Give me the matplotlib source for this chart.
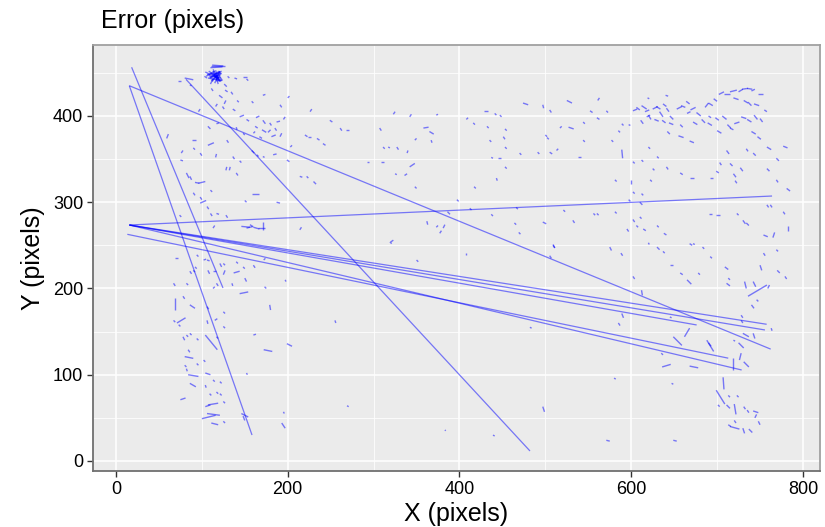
import matplotlib
matplotlib.use("Agg")
import matplotlib.pyplot as plt
from matplotlib.collections import LineCollection
from matplotlib.ticker import MultipleLocator
import numpy as np

plt.rcParams["font.family"] = ["Liberation Sans", "DejaVu Sans"]

# long error segments: start x, start y, end x, end y (pixels)
long_x    = [18.2, 15.5, 81.5, 15.5, 15.5, 15.5, 15.5, 15.5, 13.2, 15.5]
long_y    = [456.5, 435.1, 442.5, 435.1, 273.6, 273.6, 273.6, 273.6, 262.8, 273.6]
long_xend = [124.6, 158.4, 482.1, 762.4, 764.0, 757.7, 755.7, 676.2, 713.0, 728.6]
long_yend = [200.6, 30.1, 11.6, 129.7, 307.2, 158.5, 151.9, 157.7, 119.2, 105.5]

# short error segments: (x, y, dx, dy)
blob = [
    (111, 458, 16, 0), (112, 459, 13, -1), (110, 456, 14, 1), (108, 452, 12, -8),
    (109, 445, 14, 7), (112, 440, 9, 12), (115, 438, 6, 14), (118, 440, -5, 12),
    (120, 452, -10, -8), (106, 448, 16, 2), (107, 444, 16, -3), (110, 450, 12, -10),
    (113, 454, 8, -14), (116, 453, 4, -13), (121, 448, -12, -4), (119, 437, -3, 11),
    (105, 446, 10, 6), (122, 444, -14, 3), (111, 441, 11, 9), (114, 447, 9, -6),
    (117, 442, 6, 8), (110, 437, 3, 6), (124, 441, -4, 6), (104, 451, 6, -3),
    (103, 446, 3, -2), (126, 437, 3, -3), (130, 446, 2, -2), (138, 444, 3, -1),
    (148, 445, 4, 0), (152, 443, 2, -2), (127, 430, 3, -2), (134, 428, 2, -3),
    (120, 424, 4, -3), (128, 418, -2, -4), (124, 411, 2, -3), (118, 414, -2, -3),
    (136, 408, 3, -2), (111, 432, 2, -3), (141, 418, 2, -2),
]

top_left = [
    (72, 440, 4, 0), (80, 444, 10, -2), (86, 436, 2, -1), (96, 405, 2, 3),
    (107, 388, 3, -3), (117, 391, 3, 1), (158, 417, 2, -2), (171, 424, 3, 1),
    (200, 421, 2, 2), (191, 413, 2, -3), (144, 399, 5, 2), (152, 396, 3, -2),
    (163, 398, 4, 2), (171, 395, 3, -4), (179, 392, 2, -3), (187, 393, 4, 1),
    (195, 396, 2, 3), (162, 388, 3, -2), (170, 384, 5, -3), (177, 381, 3, 3),
    (185, 386, 2, -3), (193, 380, -2, -4), (160, 380, 2, 2), (167, 376, 3, -2),
    (181, 376, 5, 2), (148, 380, 2, -2), (140, 387, 1, -3),
    (88, 372, 5, 0), (78, 360, -2, -3), (90, 363, 2, -2), (107, 366, 7, 3),
    (98, 357, 2, -3), (117, 356, -1, -4), (129, 372, 2, -3), (136, 353, 2, -3),
    (133, 341, -1, -4), (144, 348, 2, -2), (158, 360, 3, -3), (164, 355, 2, -2),
    (171, 353, 2, -1), (183, 355, 4, 1), (203, 364, 2, 2), (199, 349, 3, -2),
    (75, 349, 3, -1), (82, 334, 3, -6), (86, 330, 2, -4), (92, 323, 5, -1),
    (96, 322, 8, 2), (90, 311, 2, -3), (98, 306, 2, -3), (110, 314, 2, -2),
    (129, 341, -1, -4), (140, 334, 2, -3), (158, 310, 8, 0), (150, 302, 2, -2),
    (187, 300, 4, -1), (98, 299, 7, 3), (106, 295, 2, -3), (110, 287, 2, -3),
    (117, 287, 3, -1), (128, 285, 2, -3), (59, 374, 2, 5), (113, 270, 2, 3),
    (214, 268, 2, 3), (74, 285, 2, -2),
    (146, 272, 10, -1), (152, 270, 8, 2), (160, 271, 7, -2), (165, 270, 8, 0),
    (171, 268, 0, 9), (156, 274, 3, -2),
]

middle = [
    (214, 330, 3, -1), (222, 330, 2, -2), (230, 324, 3, -3), (226, 405, 2, 3),
    (220, 378, 3, -2), (224, 376, 3, 0), (234, 374, 3, -2), (241, 368, 3, -2),
    (249, 395, 3, -2), (261, 386, 2, -3), (268, 384, 3, 0), (307, 386, 2, -3),
    (311, 364, 2, -2), (317, 364, 2, -1), (323, 402, 2, 3), (327, 364, 2, -3),
    (342, 399, 2, 3), (340, 360, -1, -3), (348, 372, 2, 2), (358, 386, 6, 1),
    (365, 382, 5, -3), (367, 372, 1, -3), (373, 401, 2, 1), (342, 341, 6, 4),
    (325, 333, 2, -1), (336, 331, 3, 2), (348, 318, 2, -2), (292, 347, 3, 0),
    (309, 347, 3, 0), (362, 278, 1, -4), (373, 271, 2, 2), (383, 274, -2, -4),
    (320, 254, 3, 2), (377, 264, 2, 3), (386, 289, 3, -3),
    (428, 406, 5, 0), (441, 403, 2, -2), (447, 401, 2, -2), (408, 396, 2, 2),
    (416, 392, 2, -2), (432, 388, 2, -2), (453, 385, 2, -2), (474, 415, 6, -2),
    (497, 413, 1, -4), (505, 407, 2, -3), (525, 418, 6, -3), (561, 418, 2, 3),
    (552, 406, 3, -2), (571, 406, 2, -2), (560, 398, 3, -2), (544, 393, 2, -2),
    (517, 386, 2, 2), (527, 387, 6, -2), (500, 378, 2, -2), (502, 375, 2, -2),
    (451, 376, 2, -3), (435, 372, 2, -2), (453, 364, 2, -2), (470, 357, 2, -2),
    (437, 352, 2, -1), (445, 351, 3, 0), (491, 358, 2, -2), (505, 358, 3, -2),
    (513, 360, 2, 2), (538, 352, 3, 0), (544, 372, 2, -2), (577, 372, 2, -2),
    (585, 383, 2, -2), (589, 391, 2, -2), (597, 390, 2, -1), (589, 361, 1, -10),
    (602, 347, 2, -2), (620, 364, 2, -2), (630, 353, 2, -2), (612, 349, 2, -2),
    (625, 339, 2, -2), (622, 326, 2, -2), (600, 326, 0, -5), (581, 326, 2, -2),
    (602, 312, 2, -2), (612, 310, 2, -2), (417, 318, 2, -2), (453, 341, 2, -2),
    (443, 328, 1, -3), (397, 303, 2, -2),
]

top_right = [
    (602, 406, 5, 2), (606, 410, 4, -3), (612, 412, 6, -4), (616, 405, 5, 2),
    (620, 401, 3, -5), (625, 408, 6, 3), (629, 411, 5, -3), (633, 405, 4, -6),
    (637, 414, 4, -3), (641, 409, 3, -4), (645, 400, 4, -4), (611, 395, 3, -4),
    (618, 399, 4, 2), (627, 396, 5, -2), (636, 395, 4, -3), (644, 392, 5, -2),
    (653, 408, 6, 3), (658, 412, 5, -2), (664, 417, 4, -3), (669, 407, 6, 3),
    (676, 404, 5, -4), (686, 410, 4, 5), (690, 415, 5, -3), (696, 420, 4, -3),
    (702, 425, 6, 3), (708, 426, 7, 0), (715, 428, 8, 2), (719, 421, 6, -2),
    (725, 428, 5, 3), (729, 431, 7, 1), (735, 432, 6, -1), (740, 429, 4, 2),
    (748, 426, 5, 0), (731, 418, 5, -3), (736, 416, 4, -4), (743, 414, 6, -2),
    (682, 396, 4, -4), (689, 392, 5, -3), (698, 398, 4, -3), (706, 400, 5, -4),
    (712, 390, 4, -4), (720, 391, 6, 2), (728, 399, 6, -2), (735, 396, 5, -3),
    (743, 401, 4, -5), (750, 397, 3, -4), (755, 407, 3, -2), (740, 382, 5, -3),
    (747, 376, 4, -3), (715, 386, 4, -2), (700, 383, 5, -3), (642, 382, 3, -3),
    (655, 377, 6, -2), (668, 371, 5, -2), (672, 393, 5, -3), (657, 390, 3, -3),
    (619, 421, 2, -1), (640, 424, 3, -1), (665, 403, 4, 2), (690, 400, 3, -2),
]

right_col = [
    (641, 341, 2, -3), (657, 334, 3, -2), (668, 328, 5, 0), (692, 328, 3, 0),
    (699, 336, 3, -2), (703, 346, 2, -3), (711, 360, 3, -4), (715, 345, 3, -3),
    (719, 333, 3, -4), (721, 325, 2, -3), (727, 340, 3, -4), (734, 362, 2, -3),
    (742, 357, 3, -3), (758, 364, 5, -3), (777, 365, 5, -2), (769, 351, 3, -3),
    (758, 339, 3, -3), (769, 326, 2, -3), (781, 316, 4, -3), (758, 297, 2, -3),
    (762, 297, 2, -3), (777, 289, 2, -3), (783, 273, 0, -6), (767, 265, -2, -6),
    (754, 262, 5, -2), (723, 287, 2, -2), (730, 279, 3, -4), (734, 276, 3, -3),
    (699, 285, 4, 0), (691, 286, 3, 0), (668, 252, 3, -2), (638, 264, 3, -2),
    (630, 273, 2, -2), (614, 269, 3, -2), (610, 283, 2, -2), (606, 273, 2, -2),
    (602, 280, 2, -3), (595, 269, 2, -3), (560, 287, 2, -2), (581, 289, 2, -2),
    (556, 287, 2, -2), (532, 279, 2, -3), (509, 250, 2, -3), (469, 265, 2, -2),
    (464, 276, 2, -2), (437, 286, 2, -2), (412, 293, 2, -2), (497, 277, 4, -2),
    (521, 291, 2, -2), (597, 303, 2, -2), (610, 300, 3, -3), (466, 294, 2, -2),
    (408, 241, 0, -2), (509, 251, 2, -4), (505, 238, 2, -3), (575, 248, 2, -4),
    (588, 241, 2, -3), (602, 214, 2, -3), (612, 198, 1, -6), (589, 171, 2, -5),
    (585, 160, 2, -3), (482, 155, 2, -1), (620, 253, 1, -2), (630, 248, 3, -3),
    (637, 243, 2, -2), (645, 227, 4, 0), (657, 218, 3, -2), (665, 210, 5, -5),
    (678, 218, 2, -2), (692, 237, 2, -2), (683, 248, 2, -2), (672, 252, 2, -1),
    (709, 225, 4, -3), (713, 212, 2, -2), (711, 206, 4, -3), (732, 208, 2, -8),
    (742, 208, 3, -6), (750, 227, 2, -6), (754, 241, 2, -3), (769, 245, 2, -2),
    (770, 221, 3, -3), (779, 214, 2, -3), (761, 204, -2, -4), (736, 191, 22, 13),
    (746, 187, 2, -2), (740, 181, 3, -4), (728, 169, 2, -3), (728, 163, 2, -3),
    (730, 148, 7, -4), (742, 148, 2, -6), (763, 154, 1, -3), (668, 154, -6, -10),
    (649, 144, 10, -10), (645, 167, 2, -1), (635, 125, 2, -2), (636, 109, 10, 3),
    (668, 110, 10, -2), (688, 140, 8, -13), (690, 137, 3, -4), (719, 140, 2, -1),
    (725, 137, 6, -6), (728, 125, -2, -8), (719, 119, 0, -14), (731, 115, 6, -6),
    (707, 97, 1, -14), (699, 82, 10, -16), (713, 76, 2, -2), (701, 65, 2, -2),
    (711, 65, 4, -4), (720, 66, 2, -12), (723, 76, 2, -2), (731, 63, 2, -3),
    (735, 59, 2, -3), (742, 58, 6, -2), (746, 54, -2, -4), (748, 46, 2, -4),
    (720, 47, 2, -3), (715, 40, 11, -3), (730, 38, 2, -6), (737, 37, 4, -4),
    (713, 42, 3, -2), (647, 90, 2, -1), (580, 96, 2, -1), (497, 63, 2, -6),
    (571, 24, 4, -1), (649, 24, 4, -1), (439, 30, 2, -1),
]

left_col = [
    (69, 235, 3, 0), (67, 206, 2, -3), (69, 189, 0, -14), (71, 160, 10, 6),
    (73, 158, 2, -2), (78, 191, 2, -3), (82, 206, 2, -2), (86, 220, 2, -3),
    (86, 181, 6, -4), (90, 221, 2, -2), (92, 225, 2, -2), (102, 233, 3, 1),
    (94, 239, 2, -2), (106, 233, 3, -1), (107, 221, 2, -4), (113, 220, 4, 0),
    (117, 206, 2, -3), (115, 202, -2, -2), (121, 229, 2, -4), (125, 229, 2, -2),
    (127, 221, -2, -5), (137, 218, 7, 2), (135, 206, 1, -3), (150, 212, 2, -4),
    (144, 194, 10, 2), (140, 231, 2, -2), (148, 225, 2, -2), (160, 227, 2, -3),
    (172, 233, 2, 2), (160, 146, 3, 1), (173, 202, 2, -2), (179, 181, 1, -6),
    (197, 210, 1, -2), (255, 163, 1, -3), (199, 136, 6, -3), (172, 129, 10, -2),
    (67, 163, 2, -2), (78, 144, 2, -4), (82, 146, 2, -2), (84, 129, 2, -3),
    (86, 148, 2, -2), (94, 142, 2, -2), (106, 163, 1, -4), (106, 179, 2, -3),
    (115, 163, 3, 2), (117, 144, 2, -2), (125, 156, 2, -2), (125, 173, 2, -2),
    (104, 146, 14, -17), (80, 121, 10, -2), (80, 111, 2, -2), (82, 107, 1, -3),
    (94, 113, 2, -2), (102, 117, 2, -2), (84, 100, 12, -2), (86, 90, 7, -4),
    (104, 102, 6, -2), (104, 88, 1, -3), (113, 94, 2, -2), (121, 92, 2, -2),
    (109, 78, 2, -2), (117, 80, 2, -2), (121, 78, 2, -2), (75, 71, 6, 2),
    (104, 63, 6, 2), (107, 65, 12, 2), (125, 69, 2, -2), (100, 49, 16, 4),
    (106, 55, 15, -2), (111, 44, 8, -2), (125, 46, 2, -2), (152, 102, 1, -2),
    (195, 57, 1, -2), (193, 44, 4, -6), (269, 64, 2, -1), (383, 36, 1, -1),
    (350, 233, 2, -2), (319, 254, 2, -2), (146, 55, 8, -4), (148, 52, 2, -5),
]

short = np.array(blob + top_left + middle + top_right + right_col + left_col, float)

fig = plt.figure(figsize=(8.25, 5.27), dpi=100)
ax = fig.add_axes([0.1127, 0.1063, 0.8812, 0.8083])

ax.set_facecolor("#EBEBEB")
ax.set_axisbelow(True)
ax.xaxis.set_major_locator(MultipleLocator(200))
ax.xaxis.set_minor_locator(MultipleLocator(100))
ax.yaxis.set_major_locator(MultipleLocator(100))
ax.yaxis.set_minor_locator(MultipleLocator(50))
ax.grid(which="major", color="white", linewidth=1.1)
ax.grid(which="minor", color="white", linewidth=0.55)

segs_long = [[(x0, y0), (x1, y1)] for x0, y0, x1, y1 in zip(long_x, long_y, long_xend, long_yend)]
ax.add_collection(LineCollection(segs_long, colors="blue", alpha=0.5, linewidths=0.9))

segs_short = [[(x, y), (x + dx, y + dy)] for x, y, dx, dy in short]
ax.add_collection(LineCollection(segs_short, colors="blue", alpha=0.5, linewidths=1.0))

ax.set_xlim(-26.8, 819.8)
ax.set_ylim(-11.6, 482.3)

for side in ["top", "right"]:
    ax.spines[side].set_color("#a0a0a0")
    ax.spines[side].set_linewidth(1.3)
for side in ["left", "bottom"]:
    ax.spines[side].set_color("#707070")
    ax.spines[side].set_linewidth(1.3)

ax.tick_params(which="major", direction="out", length=4, width=1, color="#333333",
               labelsize=13, labelcolor="black", pad=3)
ax.tick_params(which="minor", length=0)

ax.set_xlabel("X (pixels)", fontsize=18, labelpad=3)
ax.set_ylabel("Y (pixels)", fontsize=18, labelpad=6)
fig.text(0.1224, 0.960, "Error (pixels)", fontsize=18, ha="left", va="center")

fig.savefig("out.png", dpi=100)
